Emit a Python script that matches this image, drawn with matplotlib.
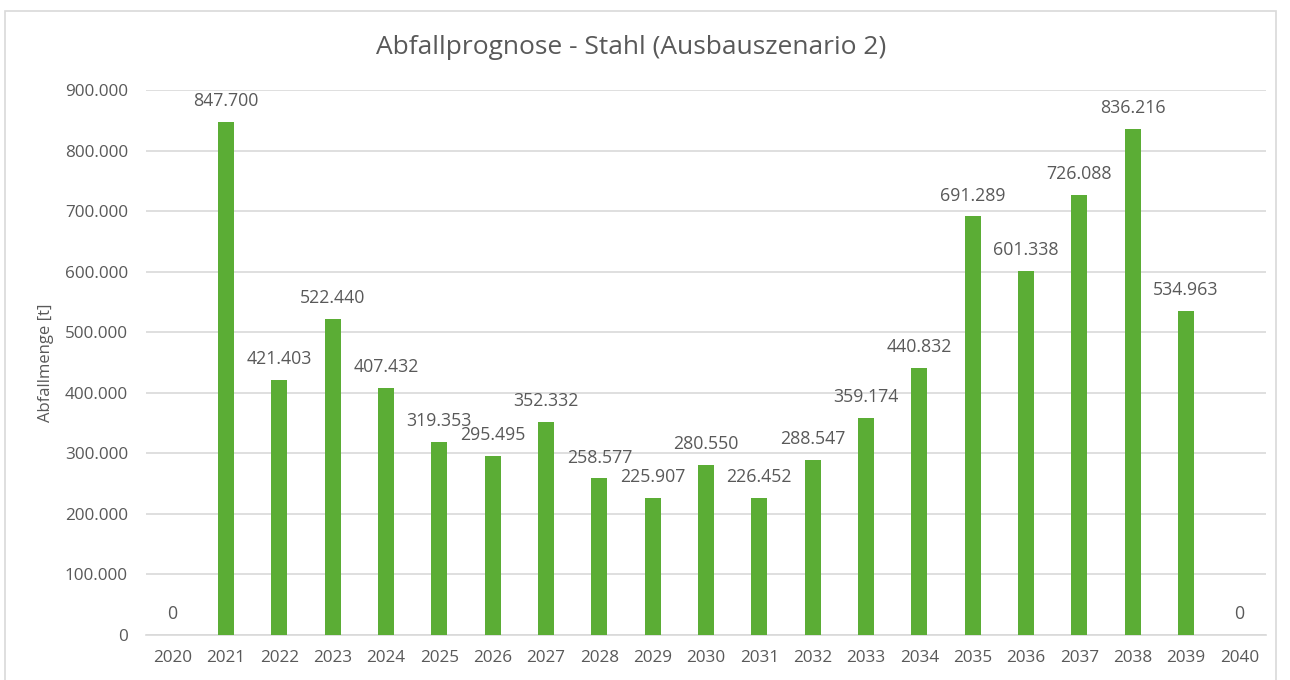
import matplotlib
matplotlib.use("Agg")
import matplotlib.pyplot as plt
from matplotlib.patches import Rectangle

# Daten
jahre = list(range(2020, 2041))
menge = [0, 847700, 421403, 522440, 407432, 319353, 295495, 352332, 258577,
         225907, 280550, 226452, 288547, 359174, 440832, 691289, 601338,
         726088, 836216, 534963, 0]
yticks = list(range(0, 900001, 100000))

grau = "#595959"
gruen = "#5bad35"

def fmt(v):
    return "{:,}".format(int(v)).replace(",", ".")

plt.rcParams['font.family'] = ['Open Sans', 'DejaVu Sans']

fig = plt.figure(figsize=(12.9, 6.8), dpi=100)
ax = fig.add_axes([146 / 1290, 1 - 635 / 680, 1120 / 1290, 545 / 680])

ax.bar(jahre, menge, width=0.30, color=gruen, zorder=3)
for j, m in zip(jahre, menge):
    ax.annotate(fmt(m), (j, m), xytext=(0, 15), textcoords="offset points",
                ha="center", va="center", fontsize=12.8, color=grau)

ax.set_xlim(2019.5, 2040.5)
ax.set_ylim(0, 900000)
ax.set_yticks(yticks)
ax.set_yticklabels([fmt(t) for t in yticks])
ax.set_xticks(jahre)
ax.set_xticklabels([str(j) for j in jahre])
ax.tick_params(axis="both", length=0, labelsize=12.3, labelcolor=grau)
ax.tick_params(axis="y", pad=13)
ax.tick_params(axis="x", pad=11)
ax.grid(axis="y", color="#d9d9d9", linewidth=1.2, zorder=0)
for s in ["top", "right", "left"]:
    ax.spines[s].set_visible(False)
ax.spines["bottom"].set_color("#d9d9d9")
ax.spines["bottom"].set_linewidth(1.2)

ax.set_ylabel("Abfallmenge [t]", fontsize=12, color=grau, labelpad=8)
fig.text(631 / 1290, 1 - 47 / 680, "Abfallprognose - Stahl (Ausbauszenario 2)",
         ha="center", va="center", fontsize=19, color=grau)

# Rahmen des Diagrammbereichs
fig.patches.append(Rectangle((5 / 1290, -0.05), 1271 / 1290, 1.05 - 11 / 680,
                             transform=fig.transFigure, fill=False,
                             edgecolor="#d9d9d9", linewidth=1.2))

fig.savefig("out.png", dpi=100, facecolor="white")
